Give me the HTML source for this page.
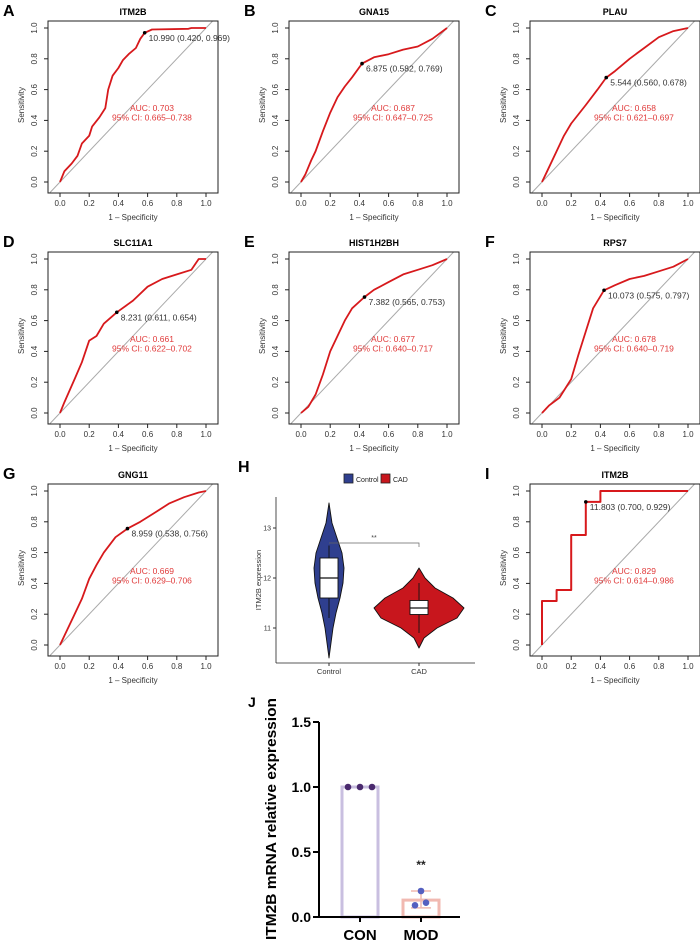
<!DOCTYPE html>
<html><head><meta charset="utf-8">
<style>
body{margin:0;background:#fff;}
svg{display:block;font-family:"Liberation Sans",Arial,sans-serif;}
</style></head>
<body>
<svg id="fig" width="700" height="944" viewBox="0 0 700 944" xmlns="http://www.w3.org/2000/svg"></svg>
<script>
// ---------- ROC data ----------
const rocTitles = ["ITM2B","GNA15","PLAU","SLC11A1","HIST1H2BH","RPS7","GNG11","ITM2B"];
const rocLetters = ["A","B","C","D","E","F","G","I"];
const rocAUC = ["AUC: 0.703","AUC: 0.687","AUC: 0.658","AUC: 0.661","AUC: 0.677","AUC: 0.678","AUC: 0.669","AUC: 0.829"];
const rocCI = ["95% CI: 0.665\u20130.738","95% CI: 0.647\u20130.725","95% CI: 0.621\u20130.697","95% CI: 0.622\u20130.702","95% CI: 0.640\u20130.717","95% CI: 0.640\u20130.719","95% CI: 0.629\u20130.706","95% CI: 0.614\u20130.986"];
const rocCutLabel = ["10.990 (0.420, 0.969)","6.875 (0.582, 0.769)","5.544 (0.560, 0.678)","8.231 (0.611, 0.654)","7.382 (0.565, 0.753)","10.073 (0.575, 0.797)","8.959 (0.538, 0.756)","11.803 (0.700, 0.929)"];
const rocCutX = [0.580,0.418,0.440,0.389,0.435,0.425,0.462,0.300];
const rocCutY = [0.969,0.769,0.678,0.654,0.753,0.797,0.756,0.929];
const rocFPR = [
 [0,0.03,0.08,0.12,0.15,0.2,0.22,0.27,0.31,0.33,0.36,0.4,0.43,0.47,0.52,0.55,0.58,0.63,0.88,0.9,1],
 [0,0.03,0.07,0.1,0.15,0.2,0.25,0.3,0.35,0.418,0.5,0.6,0.7,0.8,0.9,1],
 [0,0.03,0.1,0.15,0.2,0.3,0.38,0.44,0.5,0.6,0.7,0.8,0.9,1],
 [0,0.03,0.1,0.15,0.2,0.25,0.3,0.389,0.5,0.6,0.7,0.8,0.9,0.95,1],
 [0,0.05,0.1,0.15,0.2,0.25,0.3,0.35,0.435,0.5,0.6,0.7,0.8,0.9,1],
 [0,0.05,0.12,0.2,0.25,0.3,0.35,0.425,0.5,0.6,0.7,0.8,0.9,1],
 [0,0.05,0.1,0.15,0.2,0.25,0.3,0.38,0.462,0.55,0.65,0.75,0.85,0.95,1],
 [0,0,0.1,0.1,0.2,0.2,0.3,0.3,0.4,0.4,1]
];
const rocTPR = [
 [0,0.07,0.12,0.17,0.25,0.3,0.36,0.42,0.48,0.6,0.69,0.74,0.79,0.83,0.87,0.93,0.969,0.99,0.995,1,1],
 [0,0.05,0.14,0.2,0.33,0.45,0.55,0.62,0.68,0.769,0.81,0.83,0.86,0.88,0.93,1],
 [0,0.06,0.2,0.3,0.38,0.5,0.6,0.678,0.72,0.8,0.87,0.94,0.98,1],
 [0,0.07,0.22,0.33,0.47,0.5,0.58,0.654,0.73,0.82,0.87,0.9,0.93,1,1],
 [0,0.04,0.12,0.25,0.4,0.5,0.6,0.68,0.753,0.8,0.85,0.9,0.93,0.96,1],
 [0,0.05,0.1,0.22,0.38,0.53,0.68,0.797,0.83,0.87,0.89,0.92,0.95,1],
 [0,0.1,0.2,0.3,0.43,0.52,0.6,0.7,0.756,0.8,0.86,0.92,0.96,0.99,1],
 [0,0.286,0.286,0.357,0.357,0.714,0.714,0.929,0.929,1,1]
];
const rocTicks = [0,0.2,0.4,0.6,0.8,1.0];
const rocTickLabels = ["0.0","0.2","0.4","0.6","0.8","1.0"];
const rocOffX = [0,241,482,0,241,482,0,482];
const rocOffY = [0,0,0,231,231,231,463,463];

// ---------- Violin data ----------
const vioGroups = ["Control","CAD"];
const vioColors = ["#2f3f8f","#c8161d"];
const vioLevels = [[10.4,10.7,11.0,11.3,11.6,11.9,12.2,12.5,12.8,13.1,13.5],[10.6,10.8,11.0,11.2,11.4,11.6,11.8,12.0,12.2]];
const vioHalfWidth = [[0,2,4,7,11,14,15,13,8,3,0],[0,5,18,38,45,34,16,6,0]];
const vioQ1 = [11.6,11.27]; const vioMed = [12.0,11.4]; const vioQ3 = [12.4,11.55];
const vioWLo = [11.2,10.9]; const vioWHi = [12.65,11.9];
const vioTicks = [11,12,13];

// ---------- Bar data ----------
const barCats = ["CON","MOD"];
const barMeans = [1.0,0.13];
const barErrLo = [1.0,0.07];
const barErrHi = [1.0,0.2];
const barPts = [[1.0,1.0,1.0],[0.2,0.09,0.11]];
const barTicks = [0,0.5,1.0,1.5];
const barTickLabels = ["0.0","0.5","1.0","1.5"];

const NS="http://www.w3.org/2000/svg";
const svg=document.getElementById('fig');
function mk(tag,attrs,parent,text){const e=document.createElementNS(NS,tag);for(const k in attrs)e.setAttribute(k,attrs[k]);if(text!==undefined)e.textContent=text;(parent||svg).appendChild(e);return e;}

// ---- ROC panels ----
for(let p=0;p<rocTitles.length;p++){
  const ox=rocOffX[p], oy=rocOffY[p];
  const g=mk('g',{});
  
  
  const sx=v=>ox+60+v*146, sy=v=>oy+182-v*154;
  const L=ox+48,R=ox+218,T=oy+21,B=oy+193;
  const let_=mk('text',{x:ox+3,y:oy+16,'font-size':16,'font-weight':'bold'},g,rocLetters[p]);
  
  
  const tt=mk('text',{x:(L+R)/2,y:oy+15,'font-size':9,'font-weight':'bold','text-anchor':'middle'},g,rocTitles[p]);
  
  
  const lo=(B-(oy+182))/-154, hi=((oy+182)-T)/154;
  const dg=mk('line',{x1:sx(lo),y1:sy(lo),x2:sx(hi),y2:sy(hi),stroke:'#aaa','stroke-width':1},g);
  
  
  let d='';
  for(let i=0;i<rocFPR[p].length;i++){d+=(i?'L':'M')+sx(rocFPR[p][i]).toFixed(1)+','+sy(rocTPR[p][i]).toFixed(1);}
  const cv=mk('path',{d:d,fill:'none',stroke:'#d7191c','stroke-width':p===7?2:1.8,'stroke-linejoin':'round'},g);
  
  
  const box=mk('rect',{x:L,y:T,width:R-L,height:B-T,fill:'none',stroke:'#222','stroke-width':1},g);
  
  
  for(let i=0;i<rocTicks.length;i++){
    const v=rocTicks[i];
    mk('line',{x1:sx(v),y1:B,x2:sx(v),y2:B+4,stroke:'#222'},g);
    const xl=mk('text',{x:sx(v),y:oy+206,'font-size':8,'text-anchor':'middle',fill:'#333'},g,rocTickLabels[i]);
    
    
    mk('line',{x1:L-4,y1:sy(v),x2:L,y2:sy(v),stroke:'#222'},g);
    const yl=mk('text',{x:0,y:0,'font-size':8,'text-anchor':'middle',fill:'#333',transform:`translate(${ox+37},${sy(v)}) rotate(-90)`},g,rocTickLabels[i]);
    
    
  }
  const xt=mk('text',{x:sx(0.5),y:oy+220,'font-size':8,'text-anchor':'middle',fill:'#333'},g,'1 \u2013 Specificity');
  
  
  const yt=mk('text',{x:0,y:0,'font-size':8,'text-anchor':'middle',fill:'#333',transform:`translate(${ox+24},${sy(0.5)}) rotate(-90)`},g,'Sensitivity');
  
  
  const pt=mk('circle',{cx:sx(rocCutX[p]),cy:sy(rocCutY[p]),r:1.8,fill:'#000'},g);
  
  
  const cl=mk('text',{x:sx(rocCutX[p])+4,y:sy(rocCutY[p])+8,'font-size':8.5,fill:'#333'},g,rocCutLabel[p]);
  
  
  const a=mk('text',{x:sx(0.63),y:sy(0.48)+3,'font-size':8.5,'text-anchor':'middle',fill:'#e03a3a'},g,rocAUC[p]);
  
  
  const c=mk('text',{x:sx(0.63),y:sy(0.42)+3,'font-size':8.5,'text-anchor':'middle',fill:'#e03a3a'},g,rocCI[p]);
  
  
}

// ---- Violin panel H ----
(function(){
  const g=mk('g',{});
  
  
  const vy=v=>578-(v-12)*50;
  const cx=[329,419];
  const h=mk('text',{x:238,y:472,'font-size':16,'font-weight':'bold'},g,'H');
  
  
  for(let i=0;i<2;i++){
    const r=mk('rect',{x:[344,381][i],y:474,width:9,height:9,fill:vioColors[i],stroke:'#222','stroke-width':0.8},g);
    
    
    const t=mk('text',{x:[356,393][i],y:482,'font-size':7,fill:'#222'},g,vioGroups[i]);
    
    
  }
  for(let k=0;k<2;k++){
    const lv=vioLevels[k], hw=vioHalfWidth[k];
    let d='';
    for(let i=0;i<lv.length;i++) d+=(i?'L':'M')+(cx[k]+hw[i])+','+vy(lv[i]).toFixed(1);
    for(let i=lv.length-1;i>=0;i--) d+='L'+(cx[k]-hw[i])+','+vy(lv[i]).toFixed(1);
    const v=mk('path',{d:d+'Z',fill:vioColors[k],stroke:'#111','stroke-width':0.9,'stroke-linejoin':'round'},g);
    
    
    mk('line',{x1:cx[k],y1:vy(vioWLo[k]),x2:cx[k],y2:vy(vioWHi[k]),stroke:'#111','stroke-width':0.9},g);
    const bw=9;
    const bx=mk('rect',{x:cx[k]-bw,y:vy(vioQ3[k]),width:bw*2,height:vy(vioQ1[k])-vy(vioQ3[k]),fill:'#fff',stroke:'#111','stroke-width':0.9},g);
    
    
    mk('line',{x1:cx[k]-bw,y1:vy(vioMed[k]),x2:cx[k]+bw,y2:vy(vioMed[k]),stroke:'#111','stroke-width':1.2},g);
    const xl=mk('text',{x:cx[k],y:674,'font-size':7.5,'text-anchor':'middle',fill:'#333'},g,vioGroups[k]);
    
    
    mk('line',{x1:cx[k],y1:663,x2:cx[k],y2:666,stroke:'#333'},g);
  }
  mk('path',{d:'M329,543L419,543L419,547',fill:'none',stroke:'#666','stroke-width':0.7},g);
  const s=mk('text',{x:374,y:540,'font-size':7,'text-anchor':'middle',fill:'#444'},g,'**');
  
  
  mk('line',{x1:276,y1:497,x2:276,y2:663,stroke:'#222','stroke-width':0.8},g);
  mk('line',{x1:276,y1:663,x2:475,y2:663,stroke:'#222','stroke-width':0.8},g);
  for(const t of vioTicks){
    mk('line',{x1:273,y1:vy(t),x2:276,y2:vy(t),stroke:'#333'},g);
    const tl=mk('text',{x:271,y:vy(t)+2.5,'font-size':7,'text-anchor':'end',fill:'#333'},g,String(t));
    
    
  }
  const yt=mk('text',{x:0,y:0,'font-size':7.5,'text-anchor':'middle',fill:'#333',transform:'translate(261,580) rotate(-90)'},g,'ITM2B expression');
  
  
})();

// ---- Bar panel J ----
(function(){
  const g=mk('g',{});
  
  
  const by=v=>917-v*130;
  const cx=[360,421];
  const j=mk('text',{x:248,y:707,'font-size':14,'font-weight':'bold'},g,'J');
  
  
  const stroke=['#c9bfe0','#f1b9b1'];
  const dot=['#4a2a6e','#5560c0'];
  for(let k=0;k<2;k++){
    const b=mk('rect',{x:cx[k]-18,y:by(barMeans[k]),width:36,height:by(0)-by(barMeans[k]),fill:'none',stroke:stroke[k],'stroke-width':3},g);
    
    
    if(barErrHi[k]!==barErrLo[k]){
      mk('path',{d:`M${cx[k]},${by(barErrLo[k])}L${cx[k]},${by(barErrHi[k])}M${cx[k]-10},${by(barErrLo[k])}L${cx[k]+10},${by(barErrLo[k])}M${cx[k]-10},${by(barErrHi[k])}L${cx[k]+10},${by(barErrHi[k])}`,stroke:stroke[k],'stroke-width':1.5,fill:'none'},g);
    }
    const offs=[-12,0,12];
    const offsM=[0,-6,5];
    for(let i=0;i<barPts[k].length;i++){
      const d=mk('circle',{cx:cx[k]+(k?offsM[i]:offs[i]),cy:by(barPts[k][i]),r:3.3,fill:dot[k]},g);
      
      
    }
    mk('line',{x1:cx[k],y1:917,x2:cx[k],y2:922,stroke:'#000','stroke-width':2},g);
    const xl=mk('text',{x:cx[k],y:940,'font-size':15,'font-weight':'bold','text-anchor':'middle'},g,barCats[k]);
    
    
  }
  const s=mk('text',{x:421,y:869,'font-size':12,'font-weight':'bold','text-anchor':'middle',fill:'#222'},g,'**');
  
  
  mk('line',{x1:319,y1:by(1.5),x2:319,y2:918,stroke:'#000','stroke-width':2},g);
  mk('line',{x1:318,y1:917,x2:460,y2:917,stroke:'#000','stroke-width':2},g);
  for(let i=0;i<barTicks.length;i++){
    mk('line',{x1:313,y1:by(barTicks[i]),x2:319,y2:by(barTicks[i]),stroke:'#000','stroke-width':2},g);
    const tl=mk('text',{x:311,y:by(barTicks[i])+5,'font-size':14,'font-weight':'bold','text-anchor':'end'},g,barTickLabels[i]);
    
    
  }
  const yt=mk('text',{x:0,y:0,'font-size':15,'font-weight':'bold','text-anchor':'middle',textLength:242,lengthAdjust:'spacingAndGlyphs',transform:'translate(276,819) rotate(-90)'},g,'ITM2B mRNA relative expression');
  
  
})();
</script>
</body></html>
